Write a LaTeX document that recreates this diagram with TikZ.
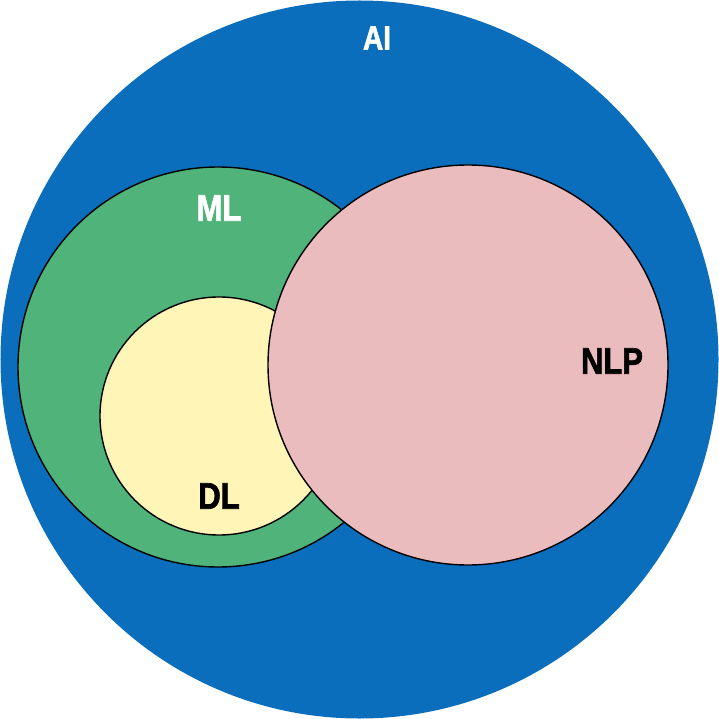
\documentclass[tikz,border=0pt]{standalone}
\usepackage{fontspec}
\newfontfamily\lblfont{Liberation Sans Bold}[FakeStretch=0.84,FakeBold=1.8]
\definecolor{aiblue}{HTML}{0A6EBD}
\definecolor{mlgreen}{HTML}{50B37A}
\definecolor{dlyellow}{HTML}{FFF5B6}
\definecolor{nlppink}{HTML}{EBBCBE}
\begin{document}
\begin{tikzpicture}[x=0.02cm,y=-0.02cm,
  ring/.style={circle,draw=black,line width=0.8pt,inner sep=0pt},
  lbl/.style={font=\lblfont\fontsize{21}{21}\selectfont,inner sep=0pt}]
\useasboundingbox (0,0) rectangle (719,719);
\node[circle,fill=aiblue,minimum size=718*0.02cm,inner sep=0pt] (ai) at (359.5,359.5) {};
\node[ring,fill=mlgreen,minimum size=400*0.02cm] (ml) at (218,367) {};
\node[ring,fill=dlyellow,minimum size=238*0.02cm] (dl) at (219,416) {};
\node[ring,fill=nlppink,minimum size=400*0.02cm] (nlp) at (468,365) {};
\node[lbl,white,font=\lblfont\fontsize{19}{19}\selectfont] (ailbl) at (377,38) {AI};
\node[lbl,white] (mllbl) at (219,208) {ML};
\node[lbl,black] (dllbl) at (219,496) {DL};
\node[lbl,black] (nlplbl) at (612,361) {NLP};
\end{tikzpicture}
\end{document}
